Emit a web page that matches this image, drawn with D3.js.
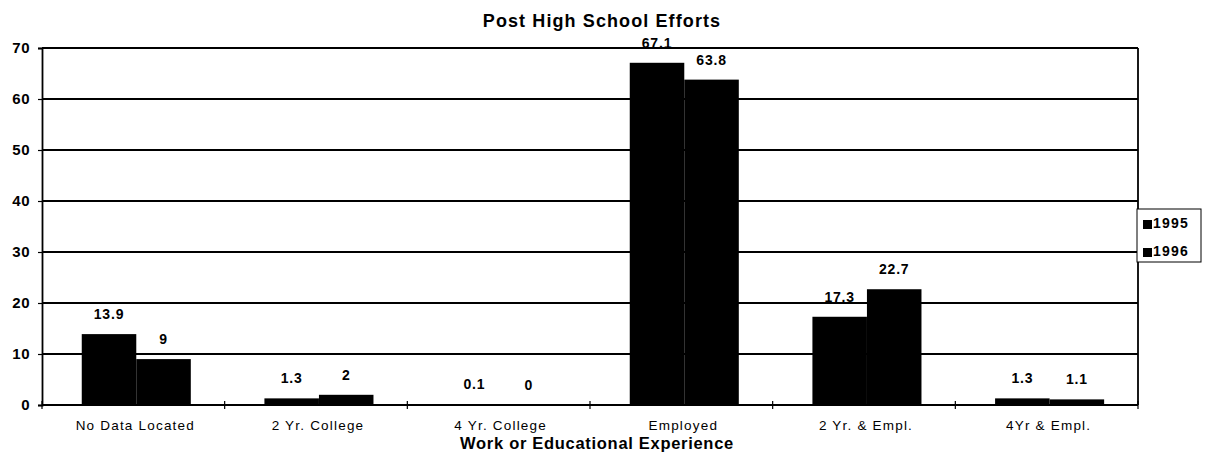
<!DOCTYPE html>
<html>
<head>
<meta charset="utf-8">
<script src="https://cdn.jsdelivr.net/npm/d3@7"></script>
<style>
  html, body { margin: 0; padding: 0; background: #fff; }
  svg { display: block; font-family: "Liberation Sans", Arial, sans-serif; }
</style>
</head>
<body>
<svg id="chart" width="1207" height="455"></svg>
<script>
// Post high school outcomes, percent of graduates
const categories = ["No Data Located", "2 Yr. College", "4 Yr. College", "Employed", "2 Yr. & Empl.", "4Yr & Empl."];
const seriesNames = ["1995", "1996"];
const values1995 = [13.9, 1.3, 0.1, 67.1, 17.3, 1.3];
const values1996 = [9, 2, 0, 63.8, 22.7, 1.1];
const labels1995 = ["13.9", "1.3", "0.1", "67.1", "17.3", "1.3"];
const labels1996 = ["9", "2", "0", "63.8", "22.7", "1.1"];
const yTicks = [0, 10, 20, 30, 40, 50, 60, 70];

const svg = d3.select("#chart");
const margin = { left: 42, right: 69, top: 48, bottom: 50 };
const W = 1207, H = 455;
const x0 = margin.left, x1 = W - margin.right;
const y0 = H - margin.bottom, y1 = margin.top;

const x = d3.scaleBand().domain(categories).range([x0, x1]).paddingInner(0).paddingOuter(0);
const xs = d3.scaleBand().domain(seriesNames).range([0, x.bandwidth()])
  .paddingInner(0).paddingOuter(0.675).align(0.54);
const y = d3.scaleLinear().domain([0, 70]).range([y0, y1]);

const rows = categories.map((c, i) => ({
  cat: c,
  vals: [
    { s: "1995", v: values1995[i], label: labels1995[i] },
    { s: "1996", v: values1996[i], label: labels1996[i] }
  ]
}));

// gridlines
svg.append("g").selectAll("line").data(yTicks.filter(t => t > 0)).join("line")
  .attr("x1", x0).attr("x2", x1)
  .attr("y1", d => y(d)).attr("y2", d => y(d))
  .attr("stroke", "#000").attr("stroke-width", 1.8);

// right border
svg.append("line").attr("x1", x1).attr("x2", x1).attr("y1", y1).attr("y2", y0)
  .attr("stroke", "#000").attr("stroke-width", 1.8);

// bars
const groups = svg.append("g").selectAll("g").data(rows).join("g")
  .attr("transform", d => `translate(${x(d.cat)},0)`);
groups.selectAll("rect").data(d => d.vals).join("rect")
  .attr("x", d => xs(d.s))
  .attr("width", xs.bandwidth())
  .attr("y", d => y(d.v))
  .attr("height", d => y(0) - y(d.v))
  .attr("fill", "#000");

// value labels
groups.selectAll("text").data(d => d.vals).join("text")
  .attr("x", d => xs(d.s) + xs.bandwidth() / 2)
  .attr("y", d => y(d.v) - 15)
  .attr("text-anchor", "middle")
  .attr("font-size", 14).attr("font-weight", "bold").attr("letter-spacing", 0.8)
  .text(d => d.label);

// y axis
const yAxis = d3.axisLeft(y).tickValues(yTicks).tickSize(4).tickPadding(8);
const gy = svg.append("g").attr("transform", `translate(${x0},0)`).call(yAxis);
gy.select(".domain").attr("stroke-width", 1.8);
gy.selectAll(".tick line").attr("stroke-width", 1.2);
gy.selectAll("text").attr("font-size", 15).attr("font-weight", "bold").attr("letter-spacing", 0.5)
  .attr("font-family", "Liberation Sans, Arial, sans-serif").attr("fill", "#000");

// x axis with ticks on category boundaries
const gx = svg.append("g").attr("transform", `translate(0,${y0})`);
gx.append("line").attr("x1", x0).attr("x2", x1).attr("stroke", "#000").attr("stroke-width", 1.8);
const bounds = categories.map(c => x(c)).concat([x1]);
gx.selectAll("line.tk").data(bounds).join("line").attr("class", "tk")
  .attr("x1", d => d).attr("x2", d => d).attr("y1", -4).attr("y2", 4)
  .attr("stroke", "#000").attr("stroke-width", 1.2);
gx.selectAll("text").data(categories).join("text")
  .attr("x", d => x(d) + x.bandwidth() / 2 + 2)
  .attr("y", 25)
  .attr("text-anchor", "middle")
  .attr("font-size", 13.5).attr("letter-spacing", 1.2)
  .text(d => d);

// axis title
svg.append("text").attr("x", 597).attr("y", 449).attr("text-anchor", "middle")
  .attr("font-size", 16.5).attr("font-weight", "bold").attr("letter-spacing", 0.7)
  .text("Work or Educational Experience");

// chart title
svg.append("text").attr("x", 602).attr("y", 27).attr("text-anchor", "middle")
  .attr("font-size", 18).attr("font-weight", "bold").attr("letter-spacing", 1.1)
  .text("Post High School Efforts");

// legend
const lg = svg.append("g").attr("transform", "translate(1137,209)");
lg.append("rect").attr("width", 64).attr("height", 53).attr("fill", "#fff")
  .attr("stroke", "#000").attr("stroke-width", 1);
lg.selectAll("g").data(seriesNames).join("g")
  .attr("transform", (d, i) => `translate(6,${11 + i * 28})`)
  .call(g => {
    g.append("rect").attr("x", 0).attr("y", 0).attr("width", 9).attr("height", 9).attr("fill", "#000");
    g.append("text").attr("x", 10).attr("y", 8).attr("font-size", 14).attr("font-weight", "bold")
      .attr("letter-spacing", 1.2).text(d => d);
  });
</script>
</body>
</html>
